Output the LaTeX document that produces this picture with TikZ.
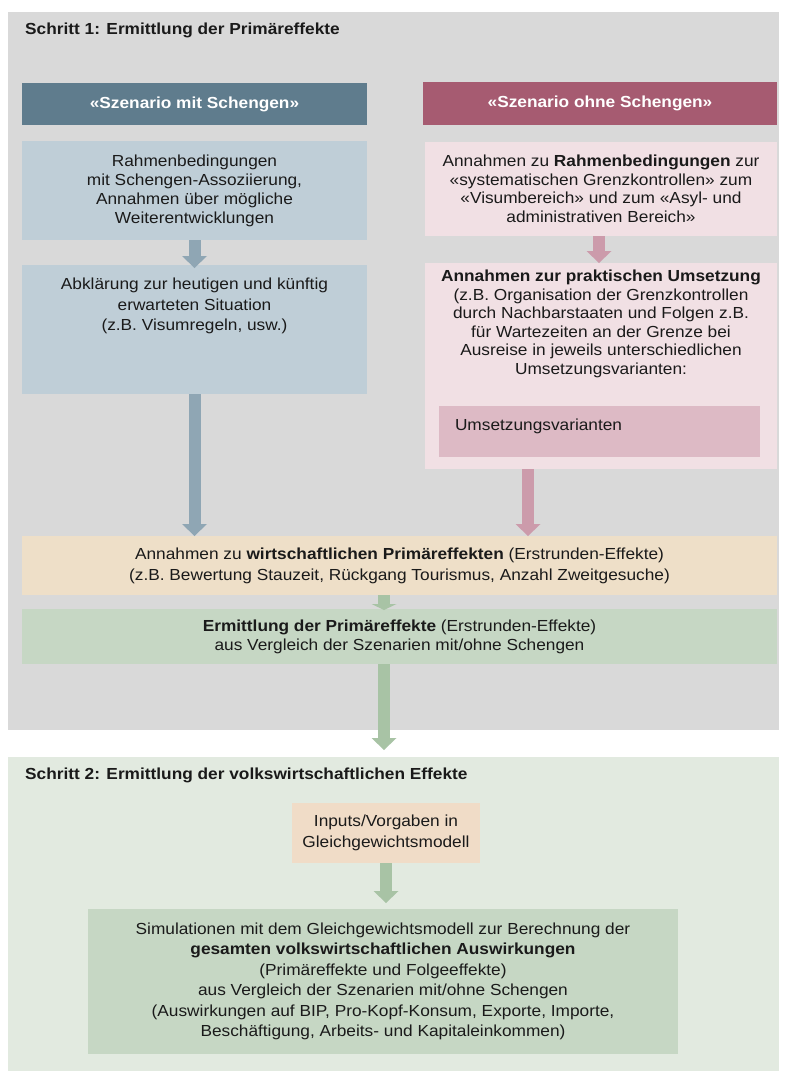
\documentclass[tikz,border=0pt]{standalone}
\usepackage{fontspec}
\setmainfont{Liberation Sans}[FakeStretch=1.08]
\usetikzlibrary{arrows.meta}

\definecolor{panelgray}{HTML}{D9D9D9}
\definecolor{panelgreen}{HTML}{E2EAE0}
\definecolor{hdrblue}{HTML}{5F7C8D}
\definecolor{hdrrose}{HTML}{A65B71}
\definecolor{boxblue}{HTML}{BFCED7}
\definecolor{boxrose}{HTML}{F1E0E4}
\definecolor{boxroseinner}{HTML}{DDBAC5}
\definecolor{boxbeige}{HTML}{EEDFC8}
\definecolor{boxgreen}{HTML}{C6D7C4}
\definecolor{boxpeach}{HTML}{F0DCC7}
\definecolor{arrblue}{HTML}{8FA6B4}
\definecolor{arrrose}{HTML}{CC9BAB}
\definecolor{arrgreen}{HTML}{A8C3A5}
\definecolor{textdark}{HTML}{1A1A1A}

\tikzset{
  box/.style={inner sep=0pt, outer sep=0pt, align=center, text=textdark,
              font=\fontsize{16}{19.5}\selectfont},
  header/.style={box, text=white, font=\fontsize{16}{19.5}\selectfont\bfseries},
  steptitle/.style={anchor=west, inner sep=0pt, text=textdark,
              font=\fontsize{16}{19.5}\selectfont\bfseries},
  blockarrow/.style={line width=12pt,
              -{Triangle[width=25pt,length=#1,line width=0pt]}},
  blockarrow/.default=12pt
}

\begin{document}
\begin{tikzpicture}[x=1pt,y=-1pt]
\useasboundingbox (0,0) rectangle (787,1071);

% the two step panels
\fill[panelgray]  (8,12)  rectangle (779,730);
\fill[panelgreen] (8,757) rectangle (779,1071);

\node[steptitle] (t1) at (25,30)  {Schritt 1: Ermittlung der Primäreffekte};
\node[steptitle] (t2) at (25,775) {Schritt 2: Ermittlung der volkswirtschaftlichen Effekte};

% scenario headers
\node[header, fill=hdrblue, minimum width=345pt, minimum height=42pt]
  (hl) at (194.5,104) {«Szenario mit Schengen»};
\node[header, fill=hdrrose, minimum width=354pt, minimum height=43pt]
  (hr) at (600,103.5) {«Szenario ohne Schengen»};

% left column
\node[box, fill=boxblue, minimum width=345pt, minimum height=99pt,
      font=\fontsize{16}{19}\selectfont]
  (lb1) at (194.5,190.5)
  {Rahmenbedingungen\\ mit Schengen-Assoziierung,\\ Annahmen über mögliche\\ Weiterentwicklungen};
\node[box, fill=boxblue] (lb2) at (194.5,329.5)
  {\parbox[c][129pt][t]{345pt}{\centering\fontsize{16}{20.5}\selectfont
   \vspace*{13pt}Abklärung zur heutigen und künftig\\ erwarteten Situation\\ (z.B. Visumregeln, usw.)}};

% right column
\node[box, fill=boxrose, minimum width=352pt, minimum height=94pt,
      font=\fontsize{16}{18.5}\selectfont]
  (rb1) at (601,189)
  {Annahmen zu \textbf{Rahmenbedingungen} zur\\ «systematischen Grenzkontrollen» zum\\
   «Visumbereich» und zum «Asyl- und\\ administrativen Bereich»};
\node[box, fill=boxrose] (rb2) at (601,366)
  {\parbox[c][206pt][t]{352pt}{\centering\fontsize{16}{18.5}\selectfont
   \vspace*{7pt}\textbf{Annahmen zur praktischen Umsetzung}\\
   (z.B. Organisation der Grenzkontrollen\\ durch Nachbarstaaten und Folgen z.B.\\
   für Wartezeiten an der Grenze bei\\ Ausreise in jeweils unterschiedlichen\\
   Umsetzungsvarianten:}};
\node[box, fill=boxroseinner] (rvar) at (599.5,431.5)
  {\parbox[c][51pt][t]{321pt}{\fontsize{16}{19}\selectfont
   \vspace*{13pt}\hspace*{16pt}Umsetzungsvarianten}};

% common boxes of step 1
\node[box, fill=boxbeige, minimum width=755pt, minimum height=59pt,
      font=\fontsize{16}{21}\selectfont]
  (beige) at (399.5,565.5)
  {Annahmen zu \textbf{wirtschaftlichen Primäreffekten} (Erstrunden-Effekte)\\
   (z.B. Bewertung Stauzeit, Rückgang Tourismus, Anzahl Zweitgesuche)};
\node[box, fill=boxgreen, minimum width=755pt, minimum height=55pt,
      font=\fontsize{16}{19}\selectfont]
  (prim) at (399.5,636.5)
  {\textbf{Ermittlung der Primäreffekte} (Erstrunden-Effekte)\\
   aus Vergleich der Szenarien mit/ohne Schengen};

% step 2 boxes
\node[box, fill=boxpeach, minimum width=188pt, minimum height=60pt,
      font=\fontsize{16}{21}\selectfont]
  (inp) at (386,833) {Inputs/Vorgaben in\\ Gleichgewichtsmodell};
\node[box, fill=boxgreen, minimum width=590pt, minimum height=145pt,
      font=\fontsize{16}{20.5}\selectfont]
  (sim) at (383,981.5)
  {Simulationen mit dem Gleichgewichtsmodell zur Berechnung der\\
   \textbf{gesamten volkswirtschaftlichen Auswirkungen}\\
   (Primäreffekte und Folgeeffekte)\\
   aus Vergleich der Szenarien mit/ohne Schengen\\
   (Auswirkungen auf BIP, Pro-Kopf-Konsum, Exporte, Importe,\\
   Beschäftigung, Arbeits- und Kapitaleinkommen)};

% connectors
\coordinate (rdown) at ([xshift=-73pt]rb2.south);
\coordinate (gdown) at ([xshift=-15.5pt]beige.south);
\coordinate (gout)  at ([xshift=-15.5pt]prim.south);
\coordinate (s2in)  at (384,750);

\draw[blockarrow, arrblue]  (lb1.south) -- ([yshift=-3pt]lb2.north);
\draw[blockarrow, arrblue]  (lb2.south) -- (lb2.south |- beige.north);
\draw[blockarrow, arrrose]  ([xshift=-2pt]rb1.south) -- ([xshift=-2pt]rb2.north);
\draw[blockarrow, arrrose]  (rdown) -- (rdown |- beige.north);
\draw[blockarrow=6pt, arrgreen] (gdown) -- ([yshift=-1pt]gdown |- prim.north);
\draw[blockarrow, arrgreen] (gout) -- (s2in);
\draw[blockarrow, arrgreen] (inp.south) -- ([yshift=6pt]inp.south |- sim.north);
\end{tikzpicture}
\end{document}
